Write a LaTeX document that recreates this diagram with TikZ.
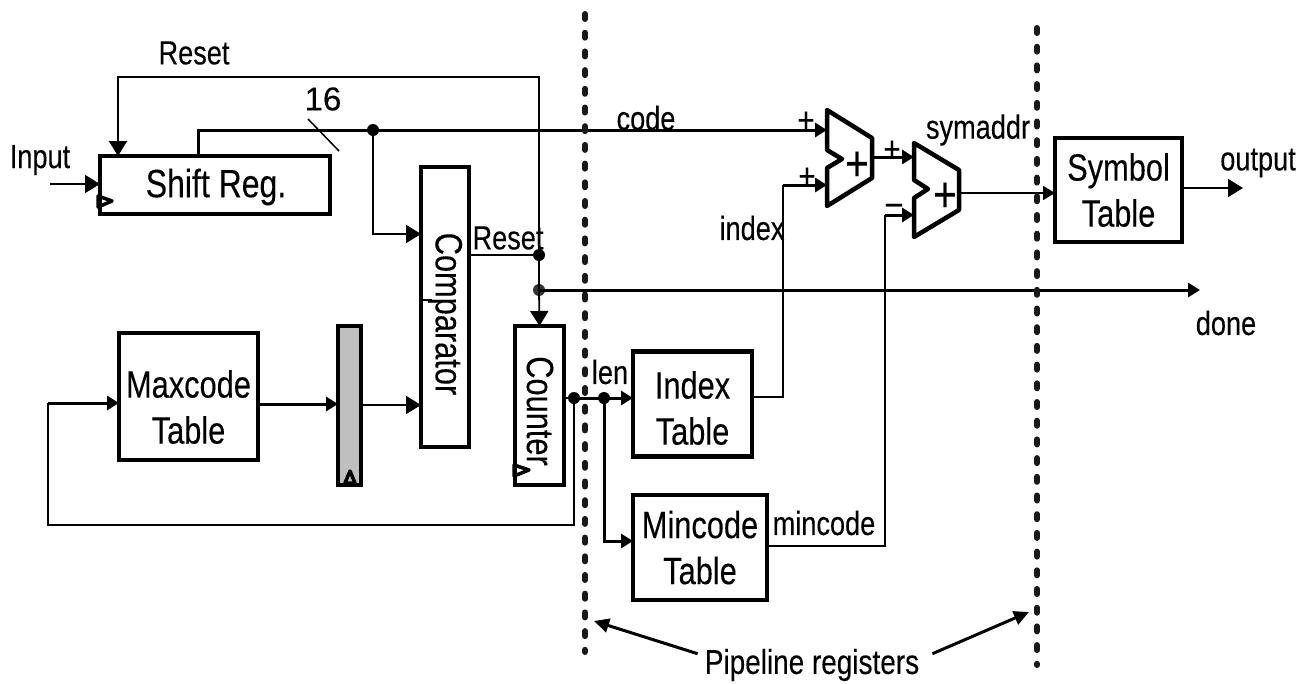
\documentclass[tikz,border=0pt]{standalone}
\usepackage{fontspec}
\setmainfont[FakeStretch=0.81,FakeBold=0.2]{Liberation Sans}
\newfontfamily\plainfont[FakeBold=0.2]{Liberation Sans}
\usetikzlibrary{arrows.meta}
\tikzset{
  x=1pt,y=-1pt,
  boxnode/.style={draw=black,line width=4.5pt,fill=white,inner sep=0pt,outer sep=0pt,align=center,font=\fontsize{38}{46}\selectfont},
  boxtext/.style={inner sep=0pt,align=center,font=\fontsize{38}{46}\selectfont},
  lab/.style={inner sep=0pt,font=\fontsize{33.5}{36}\selectfont},
  wire/.style={line width=1.8pt,draw=black},
  thick wire/.style={line width=3pt,draw=black},
  bigtip/.style={-{Triangle[length=15pt,width=18pt]}},
  midtip/.style={-{Triangle[length=12pt,width=14pt]}},
  adderbody/.style={draw=black,line width=4.5pt,fill=white,line join=round},
  regline/.style={line width=6pt,line cap=round,dash pattern=on 5pt off 13.7pt,draw=black!90},
  dotnode/.style={circle,fill=black,inner sep=0pt,minimum size=12pt},
  clk/.style={draw=black,line width=3.5pt,fill=none,line join=round},
}
\begin{document}
\begin{tikzpicture}
\useasboundingbox (0,0) rectangle (1305,683);
% pipeline register lines
\coordinate (p1a) at (585,14); \coordinate (p1b) at (585,652);
\coordinate (p2a) at (1037,28); \coordinate (p2b) at (1037,665);
% boxes
\node[boxnode,minimum width=230pt,minimum height=58pt] (sr) at (215,185) {};
\node[boxtext,font=\fontsize{39.5}{46}\selectfont] (srt) at (216,187) {Shift Reg.};
\node[boxnode,minimum width=48pt,minimum height=280pt] (cmp) at (445,307) {};
\node[boxtext,rotate=-90] (cmpt) at (445,314) {Comparator};
\node[boxnode,fill=black!25,minimum width=23pt,minimum height=159pt] (gray) at (349.5,405.5) {};
\node[boxnode,minimum width=49pt,minimum height=159pt] (cnt) at (539.5,405.5) {};
\node[boxtext,rotate=-90] (cntt) at (540,411) {Counter};
\node[boxnode,minimum width=139pt,minimum height=127pt] (max) at (188.5,396.5) {};
\node[boxtext] (maxt) at (188.5,407) {Maxcode\\Table};
\node[boxnode,minimum width=119pt,minimum height=105pt] (idx) at (692.5,404) {};
\node[boxtext] (idxt) at (692.5,408) {Index\\Table};
\node[boxnode,minimum width=134pt,minimum height=105pt] (minc) at (700,547.5) {Mincode\\Table};
\node[boxnode,minimum width=127pt,minimum height=104pt] (sym) at (1118.5,190) {Symbol\\Table};
% adders
\draw[adderbody] (827,110) -- (872,138) -- (872,178) -- (827,206) -- (827,168) -- (842,159) -- (827,150) -- cycle;
\draw[adderbody] (914,143) -- (959,170) -- (959,210) -- (914,237) -- (914,198) -- (928,189) -- (914,180) -- cycle;
\node[inner sep=0pt,font=\fontsize{50}{50}\selectfont] (add1) at (857,166) {+};
\node[inner sep=0pt,font=\fontsize{50}{50}\selectfont] (add2) at (945,197) {+};
\coordinate (a1i) at (827,130); \coordinate (a1j) at (827,185); \coordinate (a1o) at (872,157);
\coordinate (a2i) at (914,157); \coordinate (a2j) at (914,215); \coordinate (a2o) at (959,193);
% junctions
\node[dotnode] (dcode) at (373,130) {};
\node[dotnode] (dres) at (539,255) {};
\node[dotnode,fill=black!80] (ddone) at (539,290) {};
\node[dotnode] (dcnt) at (574,398) {};
\node[dotnode] (dlen) at (604,398) {};
% clock marks
\draw[clk] (98,196) -- (112,201) -- (98,207) -- cycle;
\draw[clk] (514,465) -- (529,470) -- (514,476) -- cycle;
\draw[clk] (350,471) -- (355,483) -- (345,483) -- cycle;
% wires
\coordinate (i0) at (50,184);
\draw[wire,bigtip] (i0) -- (i0 -| sr.west);
\coordinate (rt) at (539,77); \coordinate (rl) at (118,77);
\draw[wire,bigtip] (dres.center) -- (rt) -- (rl) -- (rl |- sr.north);
\draw[thick wire] (198,156) -- (198,130) -- (dcode.center);
\draw[thick wire,midtip] (dcode.center) -- (a1i);
\draw[wire,bigtip] (dcode.center) -- (373,234) -- (421,234);
\coordinate (sl1) at (308,119); \coordinate (sl2) at (339,151);
\draw[line width=1.5pt] (sl1) -- (sl2);
\draw[wire] (469,255) -- (dres.center);
\draw[wire,bigtip] (dres.center) -- (ddone.center) -- (cnt.north);
\draw[thick wire,midtip] (ddone.center) -- (1200,290);
\draw[thick wire,midtip] (258,404) -- (338,404);
\draw[wire,bigtip] (361,405) -- (421,405);
\draw[wire] (cnt.east |- dcnt) -- (dcnt.center);
\draw[thick wire,midtip] (dcnt.center) -- (dlen.center) -- (idx.west |- dlen);
\draw[wire] (dcnt.center) -- (574,525) -- (48,525) -- (48,403);
\draw[thick wire,midtip] (48,403) -- (119,403);
\draw[thick wire,midtip] (dlen.center) -- (604,541) -- (633,541);
\draw[wire] (752,397) -- (783,397) -- (783,185);
\draw[thick wire,midtip] (783,185) -- (a1j);
\draw[wire] (767,546) -- (885,546) -- (885,215);
\draw[thick wire,midtip] (885,215) -- (a2j);
\draw[thick wire,midtip] (a1o) -- (a2i);
\draw[wire,midtip] (a2o) -- (sym.west |- a2o);
\draw[wire,bigtip] (sym.east |- 0,188) -- (1243,188);
\draw[line width=1.2pt] (421,300) -- (432,300);
% pipeline
\draw[regline] (p1a) -- (p1b);
\draw[regline] (p2a) -- (p2b);
% signs
\node[lab,font=\fontsize{36}{36}\selectfont] (s1) at (806,122) {+};
\node[lab,font=\fontsize{36}{36}\selectfont] (s2) at (807,178) {+};
\node[lab,font=\fontsize{36}{36}\selectfont] (s3) at (892,151) {+};
\node[lab,font=\fontsize{36}{36}\selectfont] (s4) at (894,209) {–};
% labels
\node[lab] (lreset) at (194,53) {Reset};
\node[lab,font=\fontsize{33}{36}\plainfont] (l16) at (323,99) {16};
\node[lab] (linput) at (40,160) {Input};
\node[lab] (lcode) at (646,118) {code};
\node[lab] (lreset2) at (508,238) {Reset};
\node[lab] (lindex) at (752,228) {index};
\node[lab] (lsym) at (978,130) {symaddr};
\node[lab] (lout) at (1258,163) {output};
\node[lab] (ldone) at (1226,323) {done};
\node[lab] (llen) at (610,372) {len};
\node[lab] (lmin) at (824,523) {mincode};
\node[lab,font=\fontsize{34.5}{36}\selectfont] (lpipe) at (812,665) {Pipeline registers};
\coordinate (pa) at (594,621); \coordinate (pb) at (1029,612);
\draw[line width=3pt,-{Triangle[length=15pt,width=14pt]}] (lpipe.north west) ++(-7,5) -- (pa);
\draw[line width=3pt,-{Triangle[length=15pt,width=14pt]}] (lpipe.north east) ++(13,5) -- (pb);
\end{tikzpicture}
\end{document}
